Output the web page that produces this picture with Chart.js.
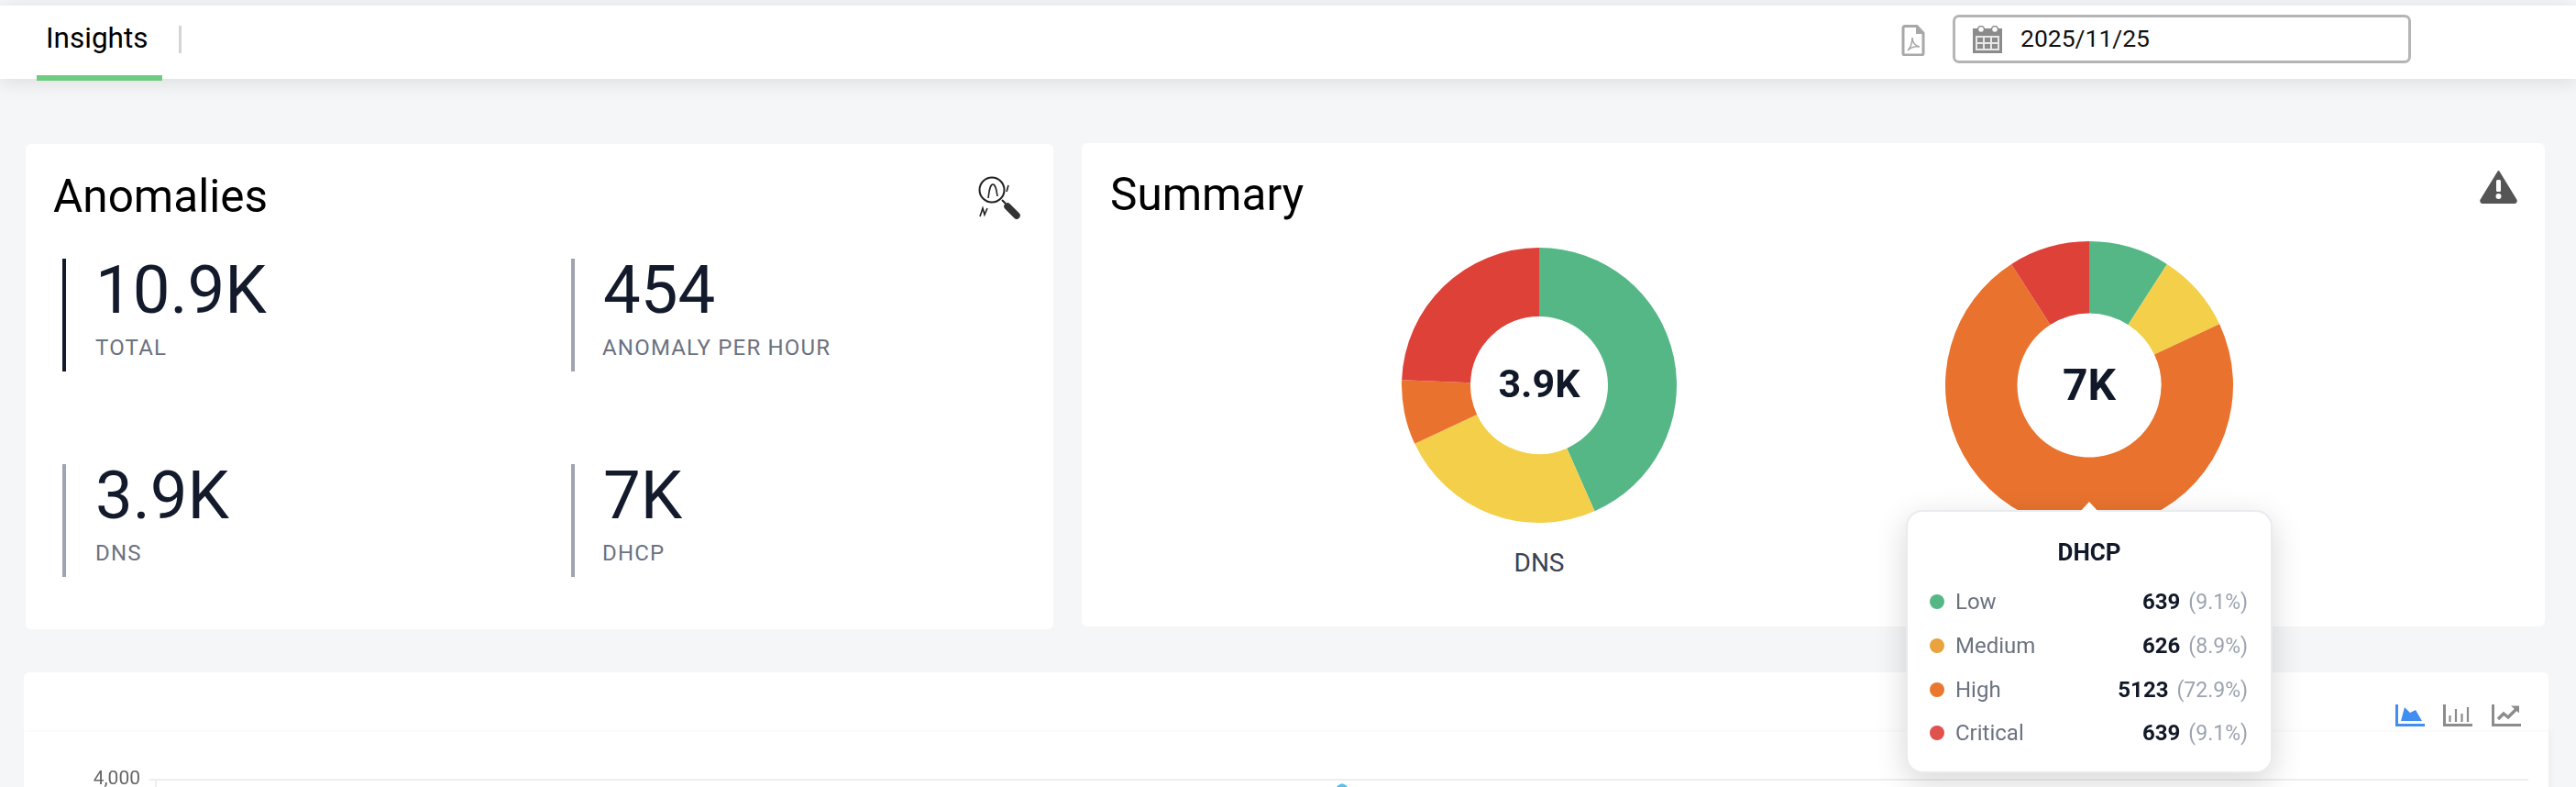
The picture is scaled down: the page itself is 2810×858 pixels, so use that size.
<!DOCTYPE html>
<html>
<head>
<meta charset="utf-8">
<title>Insights</title>
<script src="https://cdn.jsdelivr.net/npm/chart.js@4/dist/chart.umd.min.js"></script>
<style>
  html, body { margin: 0; width: 2810px; height: 858px; overflow: hidden; background: #f5f6f7; font-family: Roboto, sans-serif; color: #000; }
  .abs { position: absolute; white-space: nowrap; }
  #topbar { position: absolute; left: 0; top: 6px; width: 2810px; height: 80px; background: #fff; box-shadow: 0 3px 22px rgba(0,0,0,.11); }
  .card { position: absolute; background: #fff; border-radius: 6px; }
  .title { font-size: 49.5px; line-height: 60px; }
  .stat { font-size: 72.5px; line-height: 80px; color: #131a2b; left: 0; }
  .sub { font-size: 24px; line-height: 30px; color: #6b7280; letter-spacing: 1.2px; }
  .rule { position: absolute; width: 4px; background: #a0a4b0; }
  .center { transform: translateX(-50%); font-weight: 700; color: #111827; }
  #tip { position: absolute; left: 2079px; top: 556px; width: 396px; height: 283px; background: #fff; border: 2px solid #e9ebef; border-radius: 18px; box-shadow: 0 10px 34px rgba(0,0,0,.16); }
  #tipArrow { position: absolute; left: 2268px; top: 547px; width: 0; height: 0; border-left: 11px solid transparent; border-right: 11px solid transparent; border-bottom: 12px solid #fff; }
  .tipRow { position: absolute; left: 0; width: 396px; height: 30px; font-size: 24px; line-height: 30px; color: #6b7280; }
  .tipRow i { position: absolute; left: 24px; top: 7px; width: 16px; height: 16px; border-radius: 50%; }
  .tipRow .lab { position: absolute; left: 52px; }
  .tipRow .val { position: absolute; right: 25px; }
  .tipRow b { color: #111827; font-weight: 700; margin-right: 9px; }
  .tipRow em { font-style: normal; color: #9ca3af; font-size: 23px; }
  canvas { position: absolute; }
</style>
</head>
<body>

<div id="topbar"></div>
<div class="abs" style="left:50px;top:22px;font-size:31.5px;line-height:40px">Insights</div>
<div class="abs" style="left:40px;top:82px;width:137px;height:6px;background:#6fcb7f"></div>
<div class="abs" style="left:195px;top:28px;width:3px;height:30px;background:#d4d4d4"></div>

<!-- pdf icon -->
<svg class="abs" style="left:2074px;top:27px" width="26" height="34" viewBox="0 0 26 34">
  <path d="M2 3.5a2 2 0 0 1 2-2h13l7 7.5v22a2 2 0 0 1-2 2H4a2 2 0 0 1-2-2z" fill="#fff" stroke="#a8a8a8" stroke-width="3"/>
  <path d="M16 2v8h8" fill="#a8a8a8"/>
  <path d="M7 28c3-3 5-8 5-14 0 5 3 9 8 10-5-1-9 0-13 4z" fill="none" stroke="#a8a8a8" stroke-width="1.6"/>
</svg>
<div class="abs" style="left:2130px;top:16px;width:494px;height:47px;border:3px solid #b5b5b5;border-radius:7px;background:#fff"></div>
<!-- calendar icon -->
<svg class="abs" style="left:2152px;top:28px" width="32" height="30" viewBox="0 0 32 30">
  <rect x="0" y="3" width="32" height="27" fill="#8b8b8b"/>
  <rect x="3" y="11" width="26" height="16" fill="#e8e8e8"/>
  <g fill="#8b8b8b">
    <rect x="5" y="13" width="6" height="5"/><rect x="13" y="13" width="6" height="5"/><rect x="21" y="13" width="6" height="5"/>
    <rect x="5" y="20" width="6" height="5"/><rect x="13" y="20" width="6" height="5"/><rect x="21" y="20" width="6" height="5"/>
  </g>
  <circle cx="9" cy="4" r="3.5" fill="#fff" stroke="#8b8b8b" stroke-width="1.5"/>
  <circle cx="24" cy="4" r="3.5" fill="#fff" stroke="#8b8b8b" stroke-width="1.5"/>
</svg>
<div class="abs" id="dateText" style="left:2204px;top:25px;font-size:26.5px;line-height:34px;color:#111"></div>

<!-- Anomalies -->
<div class="card" style="left:28px;top:157px;width:1121px;height:529px"></div>
<div class="abs title" style="left:58px;top:184px">Anomalies</div>
<svg class="abs" style="left:1064px;top:190px" width="52" height="50" viewBox="0 0 52 50">
  <circle cx="18" cy="17" r="13.5" fill="none" stroke="#222" stroke-width="2"/>
  <path d="M14 26c1-8 2-15 5-15s4 6 5 13" fill="none" stroke="#222" stroke-width="1.6"/>
  <path d="M34 19l2-7" stroke="#222" stroke-width="1.6"/>
  <path d="M5 46l3-9 2 7 3-7" fill="none" stroke="#222" stroke-width="1.6"/>
  <path d="M29 28l4 4" stroke="#222" stroke-width="2"/>
  <path d="M35 35l10 10" stroke="#333" stroke-width="7.5" stroke-linecap="round"/>
</svg>
<div class="rule" style="left:68px;top:282px;height:123px;background:#131a2b"></div>
<div class="rule" style="left:623px;top:282px;height:123px"></div>
<div class="rule" style="left:68px;top:506px;height:123px"></div>
<div class="rule" style="left:623px;top:506px;height:123px"></div>
<div id="stats"></div>

<!-- Summary -->
<div class="card" style="left:1180px;top:156px;width:1596px;height:527px"></div>
<div class="abs title" style="left:1211px;top:182px">Summary</div>
<svg class="abs" style="left:2705px;top:185px" width="41" height="37" viewBox="0 0 41 37">
  <path d="M20.5 2L39.5 33a2 2 0 0 1-1.7 3H3.2a2 2 0 0 1-1.7-3z" fill="#555" stroke="#555" stroke-width="2" stroke-linejoin="round"/>
  <rect x="18" y="11" width="5" height="13" rx="1.5" fill="#fff"/>
  <circle cx="20.5" cy="29" r="3" fill="#fff"/>
</svg>

<canvas id="dnsChart" style="left:1529px;top:270px;width:300px;height:300px"></canvas>
<canvas id="dhcpChart" style="left:2122px;top:263px;width:314px;height:314px"></canvas>
<div class="abs center" id="dnsCenter" style="left:1679px;top:393px;font-size:43px;line-height:50px"></div>
<div class="abs center" id="dhcpCenter" style="left:2279px;top:392px;font-size:48px;line-height:56px"></div>
<div class="abs" style="left:1679px;top:596px;transform:translateX(-50%);font-size:28px;line-height:36px;color:#3b4252">DNS</div>

<!-- trend -->
<div class="card" style="left:26px;top:733px;width:2754px;height:200px"></div>
<div class="abs" style="left:26px;top:797px;width:2754px;height:100px;background:#fff;border-top:1px solid #fbfbfb;box-shadow:3px 0 6px rgba(0,0,0,.035)"></div>
<canvas id="trendChart" style="left:60px;top:827px;width:2698px;height:330px"></canvas>

<svg class="abs" style="left:2613px;top:768px" width="32" height="24" viewBox="0 0 32 24">
  <path d="M1.5 0v22.5H32" fill="none" stroke="#3f8ef0" stroke-width="3"/>
  <path d="M6 18L10 3l6 6 6-3 7 12z" fill="#3f8ef0"/>
</svg>
<svg class="abs" style="left:2665px;top:768px" width="32" height="24" viewBox="0 0 32 24">
  <path d="M1.5 0v22.5H32" fill="none" stroke="#8c8c8c" stroke-width="3" stroke-linecap="round"/>
  <path d="M7.5 12v7M14 5v14M20.5 10v9M27 3v16" stroke="#8c8c8c" stroke-width="2.2"/>
</svg>
<svg class="abs" style="left:2718px;top:768px" width="32" height="24" viewBox="0 0 32 24">
  <path d="M1.5 0v22.5H32" fill="none" stroke="#8c8c8c" stroke-width="3" stroke-linecap="round"/>
  <path d="M7 16l6-6 5 4 9-9" fill="none" stroke="#8c8c8c" stroke-width="3.4"/>
  <path d="M21 1.5h9v8z" fill="#8c8c8c"/>
</svg>

<!-- tooltip -->
<div id="tipArrow" style="z-index:3"></div>
<div id="tip" style="z-index:2"></div>

<script>
const reportDate = '2025/11/25';
const severityLabels = ['Low', 'Medium', 'High', 'Critical'];
const severityColors = ['#55b786', '#f3cf4a', '#e9732e', '#dd4138'];
const tooltipDots = ['#55b786', '#e8a33d', '#e9772f', '#e0524e'];
const dnsValues = [1679, 952, 294, 944];
const dhcpValues = [639, 626, 5123, 639];
const statValues = ['10.9K', '454', '3.9K', '7K'];
const statNames = ['TOTAL', 'ANOMALY PER HOUR', 'DNS', 'DHCP'];
const hourLabels = ['00:00', '01:00', '02:00', '03:00', '04:00', '05:00', '06:00', '07:00', '08:00', '09:00', '10:00', '11:00', '12:00',
  '13:00', '14:00', '15:00', '16:00', '17:00', '18:00', '19:00', '20:00', '21:00', '22:00', '23:00', '24:00'];
const hourlyAnomalies = [120, 130, 125, 140, 135, 128, 132, 138, 126, 130, 134, 140, 3900,
  142, 130, 126, 128, 136, 124, 130, 127, 133, 129, 122, 120];
const trendTicks = [0, 1000, 2000, 3000, 4000];

document.getElementById('dateText').textContent = reportDate;
document.getElementById('dnsCenter').textContent = statValues[2];
document.getElementById('dhcpCenter').textContent = statValues[3];

// stat blocks, two by two
const statLeft = [104, 658, 104, 658];
const subLeft = [104, 657, 104, 657];
const statTop = [277, 277, 501, 501];
const stats = document.getElementById('stats');
statValues.forEach(function (v, i) {
  stats.insertAdjacentHTML('beforeend',
    '<div class="abs stat" style="left:' + statLeft[i] + 'px;top:' + statTop[i] + 'px">' + v + '</div>' +
    '<div class="abs sub" style="left:' + subLeft[i] + 'px;top:' + (statTop[i] + 87) + 'px">' + statNames[i] + '</div>');
});

// the hovered DHCP tooltip
const dhcpTotal = dhcpValues.reduce(function (a, b) { return a + b; }, 0);
let tipHtml = '<div class="abs" style="left:0;width:396px;text-align:center;top:27px;font-size:26px;line-height:34px;font-weight:700;color:#111827">DHCP</div>';
severityLabels.forEach(function (name, i) {
  const pct = (dhcpValues[i] / dhcpTotal * 100).toFixed(1);
  tipHtml += '<div class="tipRow" style="top:' + (83 + i * 47.8) + 'px"><i style="background:' + tooltipDots[i] + '"></i>' +
    '<span class="lab">' + name + '</span><span class="val"><b>' + dhcpValues[i] + '</b><em>(' + pct + '%)</em></span></div>';
});
document.getElementById('tip').innerHTML = tipHtml;

function makeDoughnut(id, values) {
  return new Chart(document.getElementById(id), {
    type: 'doughnut',
    data: {
      labels: severityLabels,
      datasets: [{ data: values, backgroundColor: severityColors, borderWidth: 0, hoverOffset: 0 }]
    },
    options: {
      responsive: false,
      animation: false,
      cutout: '50%',
      plugins: { legend: { display: false }, tooltip: { enabled: false } }
    }
  });
}
makeDoughnut('dnsChart', dnsValues);
makeDoughnut('dhcpChart', dhcpValues);

new Chart(document.getElementById('trendChart'), {
  type: 'line',
  data: {
    labels: hourLabels,
    datasets: [{
      label: 'Anomalies',
      data: hourlyAnomalies,
      borderColor: '#5bc0e8',
      backgroundColor: '#5bc0e8',
      borderWidth: 5,
      borderJoinStyle: 'round',
      pointRadius: 0,
      tension: 0.2,
      fill: true
    }]
  },
  options: {
    responsive: false,
    animation: false,
    plugins: { legend: { display: false }, tooltip: { enabled: false } },
    scales: {
      x: { ticks: { display: false }, grid: { display: false }, border: { display: false } },
      y: {
        min: 0,
        max: 4000,
        afterFit: function (scale) { scale.width = 110; },
        afterBuildTicks: function (scale) { scale.ticks = trendTicks.map(function (v) { return { value: v }; }); },
        ticks: { color: '#666', font: { family: 'Roboto', size: 21 }, padding: 10, callback: function (v) { return v.toLocaleString('en-US'); } },
        grid: { color: '#eeeeee', lineWidth: 2, tickLength: 7 },
        border: { color: '#eeeeee', width: 2 }
      }
    }
  }
});
</script>
</body>
</html>
